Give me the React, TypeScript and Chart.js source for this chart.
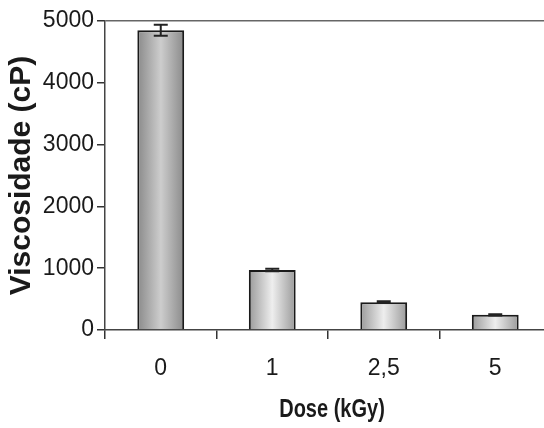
import React, { useEffect, useRef } from "react";
import { Chart, registerables } from "chart.js";

Chart.register(...registerables);

const doseLabels = ["0", "1", "2,5", "5"];
const viscosity = [4850, 970, 450, 245];
const viscosityErr = [90, 20, 15, 10];
const yTicks = [0, 1000, 2000, 3000, 4000, 5000];
const xTitle = "Dose (kGy)";

const BAR_PCT = 0.42;

function barFill(c: any) {
  const chart = c.chart;
  const xs = chart.scales && chart.scales.x;
  if (!xs || !chart.chartArea || c.dataIndex === undefined) return "#b0b0b0";
  const x = xs.getPixelForValue(c.dataIndex);
  const half = ((xs.width / doseLabels.length) * BAR_PCT) / 2;
  const g = chart.ctx.createLinearGradient(x - half, 0, x + half, 0);
  const edge = c.dataIndex === 0 ? "#8a8a8a" : "#9a9a9a";
  const mid = c.dataIndex === 0 ? "#cdcdcd" : "#eeeeee";
  g.addColorStop(0, edge);
  g.addColorStop(0.5, mid);
  g.addColorStop(1, edge);
  return g;
}

const errorBarPlugin = {
  id: "errorBars",
  afterDatasetsDraw(chart: any) {
    const meta = chart.getDatasetMeta(0);
    const ctx = chart.ctx;
    const yScale = chart.scales.y;
    ctx.save();
    ctx.strokeStyle = "#222";
    ctx.lineWidth = 2;
    meta.data.forEach((el: any, i: number) => {
      const v = viscosity[i];
      const e = viscosityErr[i];
      const yt = yScale.getPixelForValue(v + e);
      const yb = yScale.getPixelForValue(v - e);
      const x = el.x;
      const cap = 7;
      ctx.beginPath();
      ctx.moveTo(x, yt);
      ctx.lineTo(x, yb);
      ctx.moveTo(x - cap, yt);
      ctx.lineTo(x + cap, yt);
      ctx.moveTo(x - cap, yb);
      ctx.lineTo(x + cap, yb);
      ctx.stroke();
    });
    ctx.restore();
  },
  afterDraw(chart: any) {
    // condensed bold x-axis title
    const ctx = chart.ctx;
    const area = chart.chartArea;
    const cx = (area.left + area.right) / 2 + 4;
    const cy = area.bottom + 80;
    ctx.save();
    ctx.translate(cx, cy);
    ctx.scale(0.8, 1);
    ctx.font = "bold 25px 'Liberation Sans', Arial, sans-serif";
    ctx.fillStyle = "#1a1a1a";
    ctx.textAlign = "center";
    ctx.textBaseline = "middle";
    ctx.fillText(xTitle, 0, 0);
    ctx.restore();
  },
};

export default function App() {
  const canvasRef = useRef<HTMLCanvasElement | null>(null);

  useEffect(() => {
    if (!canvasRef.current) return;
    const chart = new Chart(canvasRef.current, {
      type: "bar",
      data: {
        labels: doseLabels,
        datasets: [
          {
            data: viscosity,
            backgroundColor: barFill,
            borderColor: "#1a1a1a",
            borderWidth: 2,
            barPercentage: BAR_PCT,
            categoryPercentage: 1,
          },
        ],
      },
      options: {
        animation: false,
        responsive: false,
        maintainAspectRatio: false,
        layout: { padding: { top: 21, right: 1, left: 0, bottom: 0 } },
        plugins: {
          legend: { display: false },
          tooltip: { enabled: false },
        },
        scales: {
          x: {
            grid: {
              offset: true,
              drawOnChartArea: false,
              tickLength: 9,
              color: "#333",
              lineWidth: 1.5,
            },
            border: { color: "#444", width: 1.5 },
            ticks: {
              color: "#1a1a1a",
              font: { family: "Liberation Sans, Arial, sans-serif", size: 23 },
              padding: 16,
            },
            title: { display: false },
            afterFit(scale: any) {
              scale.height = 98;
            },
          },
          y: {
            min: 0,
            max: 5000,
            afterBuildTicks(scale: any) {
              scale.ticks = yTicks.map((v) => ({ value: v }));
            },
            grid: {
              drawOnChartArea: true,
              tickLength: 8,
              color: (c: any) => (c.tick && c.tick.value === 5000 ? "#666" : "rgba(0,0,0,0)"),
              tickColor: "#333",
              lineWidth: 1.5,
            },
            border: { color: "#444", width: 1.5 },
            ticks: {
              color: "#1a1a1a",
              font: { family: "Liberation Sans, Arial, sans-serif", size: 23 },
              padding: 3,
              callback: (v: any) => String(v),
            },
            title: {
              display: true,
              text: "Viscosidade (cP)",
              color: "#1a1a1a",
              font: { family: "Liberation Sans, Arial, sans-serif", size: 30, weight: "bold" },
              padding: { top: 4, bottom: 0 },
            },
            afterFit(scale: any) {
              scale.width = 105;
            },
          },
        },
      },
      plugins: [errorBarPlugin],
    } as any);
    return () => chart.destroy();
  }, []);

  return (
    <div
      style={{
        position: "absolute",
        left: 0,
        top: 0,
        width: 544,
        height: 428,
        overflow: "hidden",
        background: "#fff",
      }}
    >
      <canvas ref={canvasRef} width={552} height={428} style={{ width: 552, height: 428, display: "block" }} />
    </div>
  );
}
